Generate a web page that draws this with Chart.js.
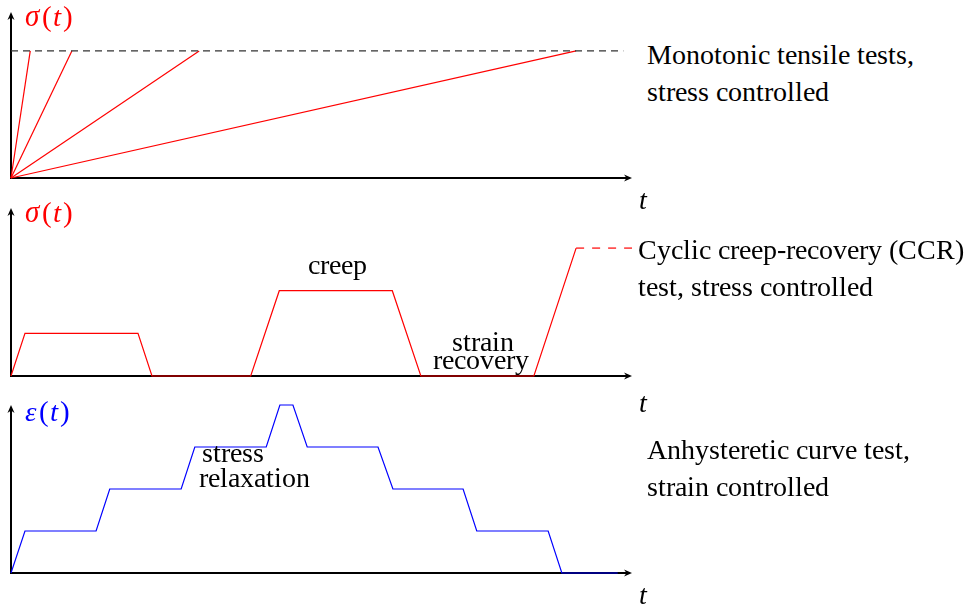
<!DOCTYPE html>
<html>
<head>
<meta charset="utf-8">
<script src="https://cdn.jsdelivr.net/npm/chart.js@4"></script>
<style>
  @font-face {
    font-family: "RefSerif";
    font-style: normal;
    src: local("Liberation Serif"), local("LiberationSerif"), local("LiberationSerif-Regular"),
         local("Times New Roman"), local("DejaVu Serif"), local("DejaVuSerif"),
         local("Noto Serif"), local("NotoSerif-Regular");
  }
  @font-face {
    font-family: "RefSerif";
    font-style: italic;
    src: local("Liberation Serif Italic"), local("LiberationSerif-Italic"),
         local("Times New Roman Italic"), local("DejaVu Serif Italic"), local("DejaVuSerif-Italic"),
         local("Noto Serif Italic"), local("NotoSerif-Italic");
  }
  html, body { margin: 0; padding: 0; background: #fff; }
  #wrap { position: relative; width: 976px; height: 610px; overflow: hidden; }
  canvas { position: absolute; left: 0; }
  .txt {
    position: absolute; white-space: nowrap;
    font-family: "RefSerif", "Liberation Serif", "DejaVu Serif", "Times New Roman", serif;
    font-size: 28.4px; line-height: 28px; color: #000;
  }
  .math { font-size: 29px; }
  .math i.v { margin-right: 3px; }
  .math i.t { margin: 0 2px 0 1px; }
  .red { color: #ff0000; }
  .blue { color: #0000ff; }
</style>
</head>
<body>
<div id="wrap">
  <canvas id="c1" width="645" height="190" style="top:0px"></canvas>
  <canvas id="c2" width="645" height="195" style="top:195px"></canvas>
  <canvas id="c3" width="645" height="195" style="top:392px"></canvas>

  <div class="txt math red" style="left:25px; top:2px"><i class="v">σ</i>(<i class="t">t</i>)</div>
  <div class="txt math red" style="left:25px; top:198px"><i class="v">σ</i>(<i class="t">t</i>)</div>
  <div class="txt math blue" style="left:25px; top:397px"><i class="v">ε</i>(<i class="t">t</i>)</div>

  <div class="txt" style="left:639px; top:186px"><i>t</i></div>
  <div class="txt" style="left:639px; top:389px"><i>t</i></div>
  <div class="txt" style="left:639px; top:581px"><i>t</i></div>

  <div class="txt" style="left:647px; top:41px">Monotonic tensile tests,</div>
  <div class="txt" style="left:647px; top:78px">stress controlled</div>
  <div class="txt" style="left:638px; top:236px">Cyclic creep-recovery (CCR)</div>
  <div class="txt" style="left:638px; top:273px">test, stress controlled</div>
  <div class="txt" style="left:647px; top:436px">Anhysteretic curve test,</div>
  <div class="txt" style="left:647px; top:473px">strain controlled</div>

  <div class="txt" style="left:308px; top:251px">creep</div>
  <div class="txt" style="left:452px; top:328px">strain</div>
  <div class="txt" style="left:433px; top:346px">recovery</div>
  <div class="txt" style="left:202px; top:439px">stress</div>
  <div class="txt" style="left:199px; top:464px">relaxation</div>
</div>

<script>
// panel 1: monotonic ramps up to the stress limit
const limitLevel = 3;
const rampEndTimes = [3.1, 9.8, 30.3, 91.0];
const limitLineTimes = [0, 98.6];

// panel 2: cyclic creep-recovery
const ccrTimes = [0, 2.25, 20.45, 22.7, 38.6, 43.2, 61.4, 66.0, 84.2, 91.0];
const ccrStress = [0, 1, 1, 0, 0, 2, 2, 0, 0, 3];
const ccrTailTimes = [91.0, 100];
const ccrTailStress = [3, 3];

// panel 3: anhysteretic curve, strain steps
const ahTimes = [0, 2.25, 13.7, 15.9, 27.4, 29.6, 41.1, 43.3, 45.4, 47.7, 59.1, 61.5, 72.8, 75.0, 86.5, 88.7, 97.7];
const ahStrain = [0, 1, 1, 2, 2, 3, 3, 4, 4, 3, 3, 2, 2, 1, 1, 0, 0];

function pts(xs, ys) {
    return xs.map((x, i) => ({ x: x, y: ys[i] }));
}

function drawArrow(ctx, x, y, dx, dy) {
    const px = -dy, py = dx;
    ctx.beginPath();
    ctx.moveTo(x, y);
    ctx.lineTo(x - 8 * dx + 3.5 * px, y - 8 * dy + 3.5 * py);
    ctx.lineTo(x - 5.5 * dx, y - 5.5 * dy);
    ctx.lineTo(x - 8 * dx - 3.5 * px, y - 8 * dy - 3.5 * py);
    ctx.closePath();
    ctx.fill();
}

// axis lines with arrow heads, drawn under the curves
const axesArrows = {
    id: "axesArrows",
    beforeDatasetsDraw(chart) {
        const ctx = chart.ctx;
        const x0 = chart.scales.x.getPixelForValue(0);
        const x1 = chart.scales.x.getPixelForValue(chart.scales.x.max);
        const y0 = chart.scales.y.getPixelForValue(0);
        const y1 = chart.scales.y.getPixelForValue(chart.scales.y.max);
        ctx.save();
        ctx.strokeStyle = "#000";
        ctx.fillStyle = "#000";
        ctx.lineWidth = 2;
        ctx.beginPath();
        ctx.moveTo(x0, y0);
        ctx.lineTo(x1 - 5, y0);
        ctx.moveTo(x0, y0 + 1);
        ctx.lineTo(x0, y1 + 5);
        ctx.stroke();
        drawArrow(ctx, x1, y0, 1, 0);
        drawArrow(ctx, x0, y1, 0, -1);
        ctx.restore();
    }
};

function makePanel(id, datasets, yMax, pad) {
    const ctx = document.getElementById(id).getContext("2d");
    return new Chart(ctx, {
        type: "line",
        data: { datasets: datasets },
        options: {
            responsive: false,
            animation: false,
            layout: { padding: pad },
            plugins: {
                legend: { display: false },
                tooltip: { enabled: false }
            },
            elements: {
                point: { radius: 0 },
                line: { tension: 0, borderCapStyle: "butt" }
            },
            scales: {
                x: { type: "linear", min: 0, max: 100, display: false },
                y: { type: "linear", min: 0, max: yMax, display: false }
            }
        },
        plugins: [axesArrows]
    });
}

const monoSets = [{
    data: pts(limitLineTimes, [limitLevel, limitLevel]),
    borderColor: "#333333",
    borderWidth: 1.2,
    borderDash: [7, 5],
    clip: false
}];
rampEndTimes.forEach(t => {
    monoSets.push({
        data: pts([0, t], [0, limitLevel]),
        borderColor: "#ff0000",
        borderWidth: 1.2,
        clip: false
    });
});

makePanel("c1", monoSets, 3.92, { left: 11, right: 13, top: 12, bottom: 12 });

makePanel("c2", [{
    data: pts(ccrTimes, ccrStress),
    borderColor: "#ff0000",
    borderWidth: 1.2,
    clip: false
}, {
    data: pts(ccrTailTimes, ccrTailStress),
    borderColor: "#ff0000",
    borderWidth: 1.2,
    borderDash: [8, 8],
    clip: false
}], 3.94, { left: 11, right: 13, top: 13, bottom: 14 });

makePanel("c3", [{
    data: pts(ahTimes, ahStrain),
    borderColor: "#0000ff",
    borderWidth: 1.2,
    clip: false
}], 4.0, { left: 11, right: 13, top: 13, bottom: 14 });
</script>
</body>
</html>
